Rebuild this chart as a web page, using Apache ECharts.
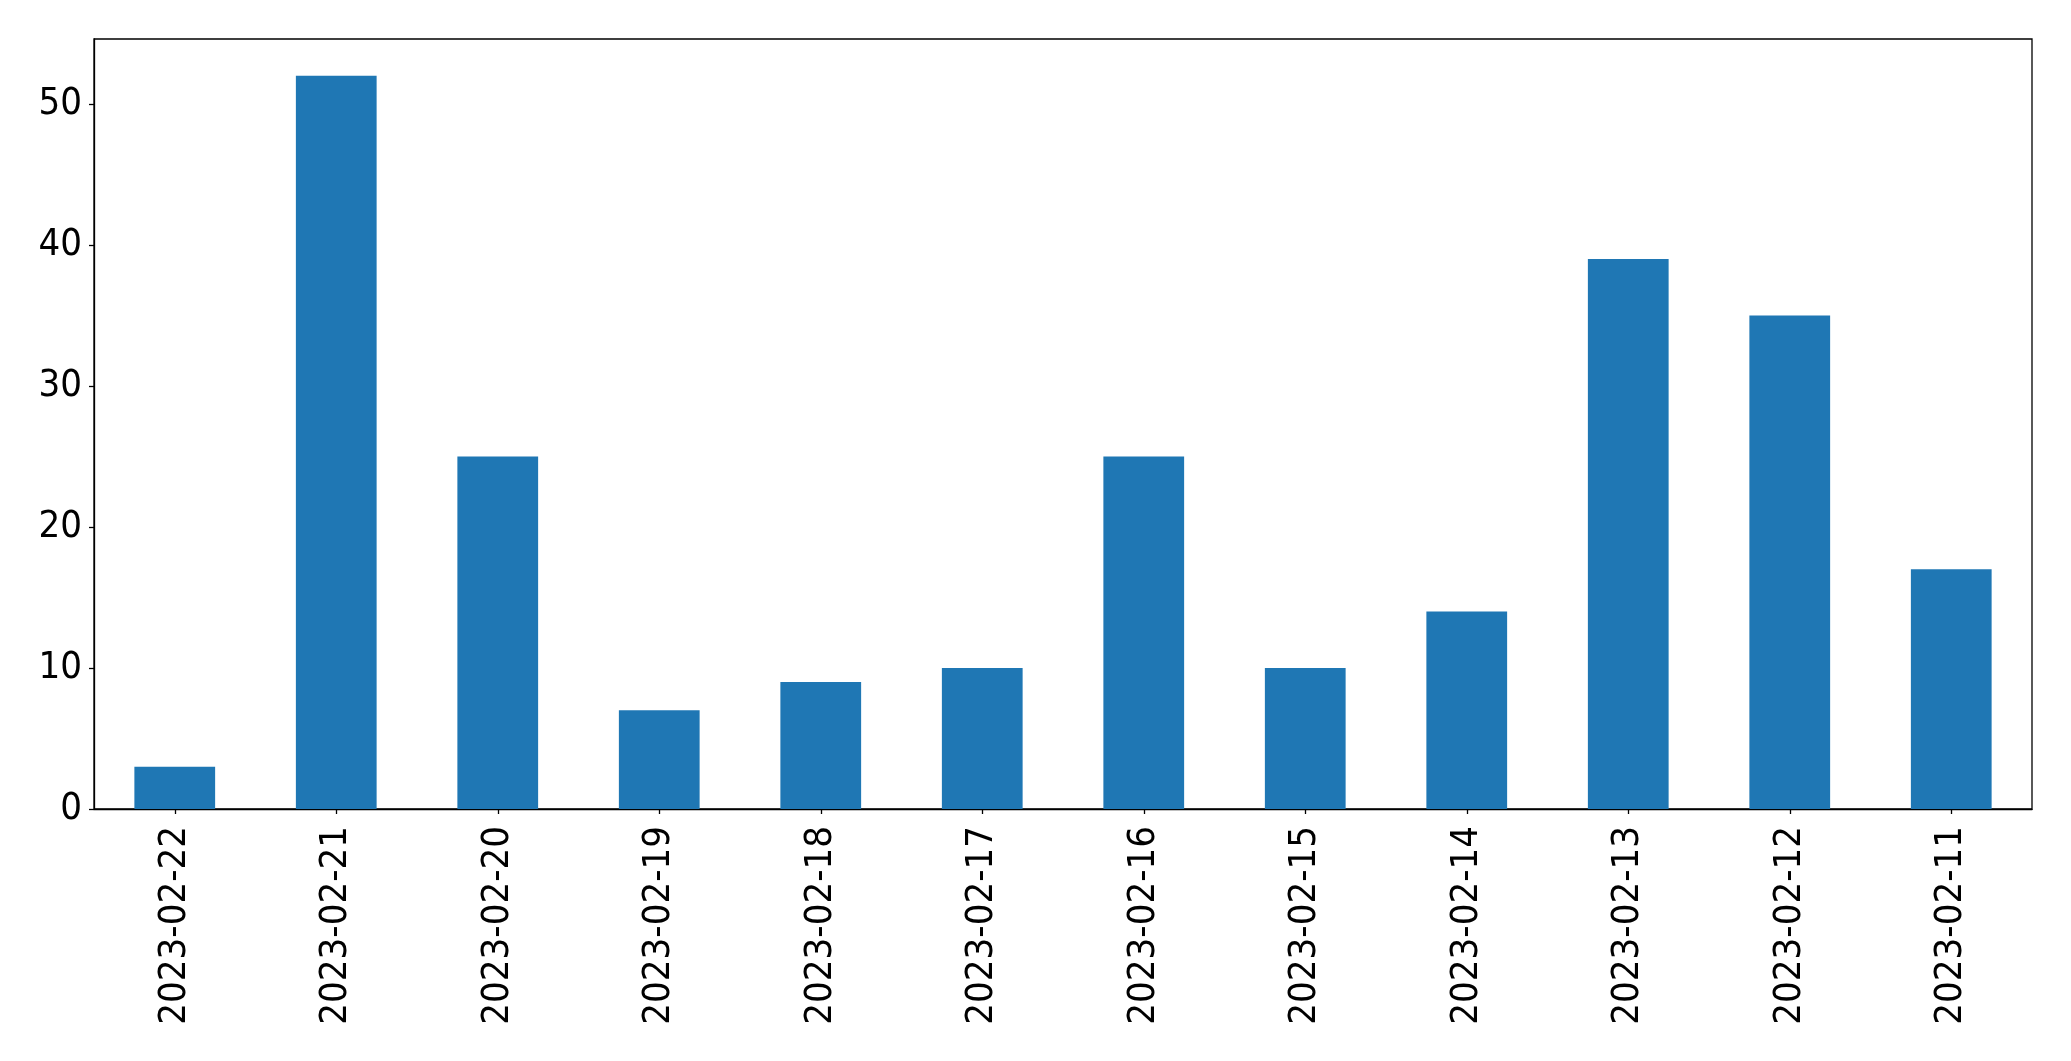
<!DOCTYPE html>
<html>
<head>
<meta charset="utf-8">
<script src="https://cdn.jsdelivr.net/npm/echarts@6/dist/echarts.min.js"></script>
<style>
html,body{margin:0;padding:0;background:#fff;}
#c{width:2071px;height:1061px;}
</style>
</head>
<body>
<div id="c"></div>
<script>
const categories = ["2023-02-22","2023-02-21","2023-02-20","2023-02-19","2023-02-18","2023-02-17","2023-02-16","2023-02-15","2023-02-14","2023-02-13","2023-02-12","2023-02-11"];
const values = [3, 52, 25, 7, 9, 10, 25, 10, 14, 39, 35, 17];
const yTicks = [0, 10, 20, 30, 40, 50];

const chart = echarts.init(document.getElementById('c'), null, {renderer: 'canvas'});
const font = '"DejaVu Sans Condensed", "DejaVu Sans", sans-serif';
chart.setOption({
  animation: false,
  backgroundColor: '#fff',
  grid: {left: 94, right: 39, top: 39, bottom: 252, show: true, borderColor: '#000', borderWidth: 1.3, containLabel: false},
  xAxis: {
    type: 'category',
    data: categories,
    boundaryGap: true,
    axisLine: {show: true, lineStyle: {color: '#000', width: 1.3}},
    axisTick: {show: true, alignWithLabel: true, length: 5, lineStyle: {color: '#000', width: 1.3}},
    axisLabel: {rotate: 90, margin: 17, color: '#000', fontSize: 38, fontFamily: font, interval: 0}
  },
  yAxis: {
    type: 'value',
    min: 0,
    max: 54.6,
    interval: 10,
    splitLine: {show: false},
    axisLine: {show: true, lineStyle: {color: '#000', width: 1.3}},
    axisTick: {show: true, length: 5, customValues: yTicks, lineStyle: {color: '#000', width: 1.3}},
    axisLabel: {
      margin: 12, color: '#000', fontSize: 38, fontFamily: font,
      customValues: yTicks
    }
  },
  series: [{
    type: 'bar',
    data: values,
    barWidth: '50%',
    itemStyle: {color: '#1f77b4'}
  }]
});
</script>
</body>
</html>
